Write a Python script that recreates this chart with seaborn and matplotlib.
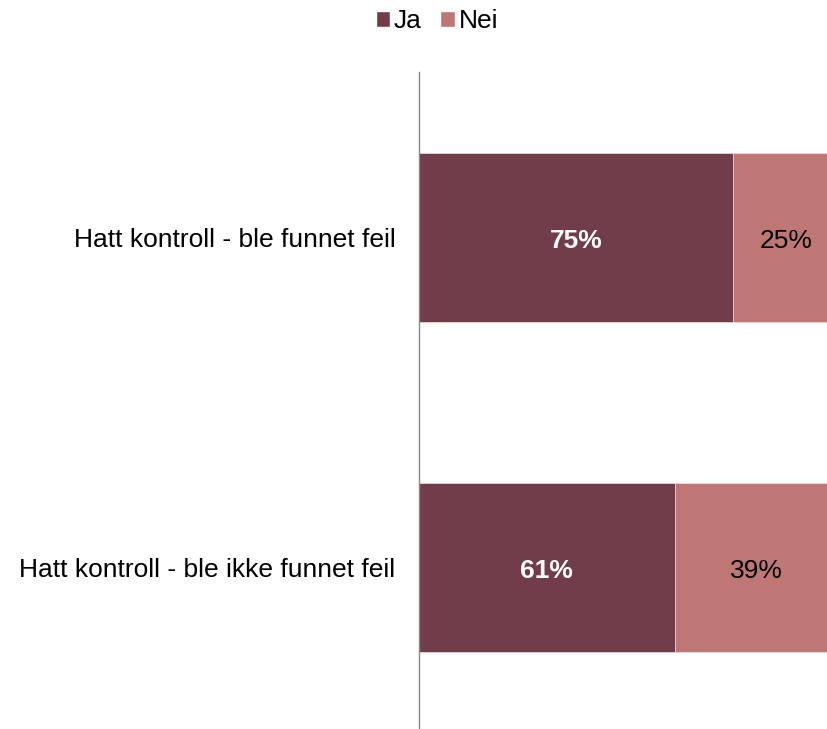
import matplotlib
matplotlib.use("Agg")
import matplotlib.pyplot as plt
import seaborn as sns
import pandas as pd
from matplotlib.patches import Patch

categories = ["Hatt kontroll - ble funnet feil", "Hatt kontroll - ble ikke funnet feil"]
ja = [75, 61]
nei = [25, 39]
series = ["Ja", "Nei"]

sns.set_style("white")
plt.rcParams['font.family'] = ['Liberation Sans', 'DejaVu Sans']
plt.rcParams['text.color'] = 'black'
plt.rcParams['ytick.color'] = 'black'

c_ja = "#723D4A"
c_nei = "#BE7775"

df = pd.DataFrame({"cat": categories, "Ja": ja, "Nei": nei})
df["total"] = df["Ja"] + df["Nei"]

fig = plt.figure(figsize=(8.27, 7.29), dpi=100)
ax = fig.add_axes([419/827, 0, 419/827, (729-72)/729])

sns.barplot(data=df, y="cat", x="total", color=c_nei, orient="h", width=0.512,
            edgecolor="#e8d8d8", linewidth=0.6, ax=ax, saturation=1)
sns.barplot(data=df, y="cat", x="Ja", color=c_ja, orient="h", width=0.512,
            edgecolor="#e8d8d8", linewidth=0.6, ax=ax, saturation=1)

for i, (a, b) in enumerate(zip(ja, nei)):
    ax.text(a / 2, i + 0.012, f"{a}%", ha="center", va="center", color="white",
            fontsize=19, fontweight="bold")
    ax.text(a + b / 2, i + 0.012, f"{b}%", ha="center", va="center", color="black",
            fontsize=19)

ax.set_xlim(0, 100)
ax.set_ylim(1.489, -0.5)
ax.set_xlabel("")
ax.set_ylabel("")
ax.set_xticks([])
ax.tick_params(axis="y", length=0, pad=17, labelsize=19, labelcolor="black")
for s in ["top", "right", "bottom"]:
    ax.spines[s].set_visible(False)
ax.spines["left"].set_color("#888888")
ax.spines["left"].set_linewidth(1.0)

handles = [Patch(facecolor=c_ja, label="Ja"), Patch(facecolor=c_nei, label="Nei")]
fig.legend(handles=handles, loc="center", bbox_to_anchor=(437/827, 1 - 21/729), ncol=2,
           frameon=False, fontsize=19, handlelength=0.55, handleheight=0.55,
           handletextpad=0.15, columnspacing=0.7)

fig.savefig("out.png", dpi=100)
